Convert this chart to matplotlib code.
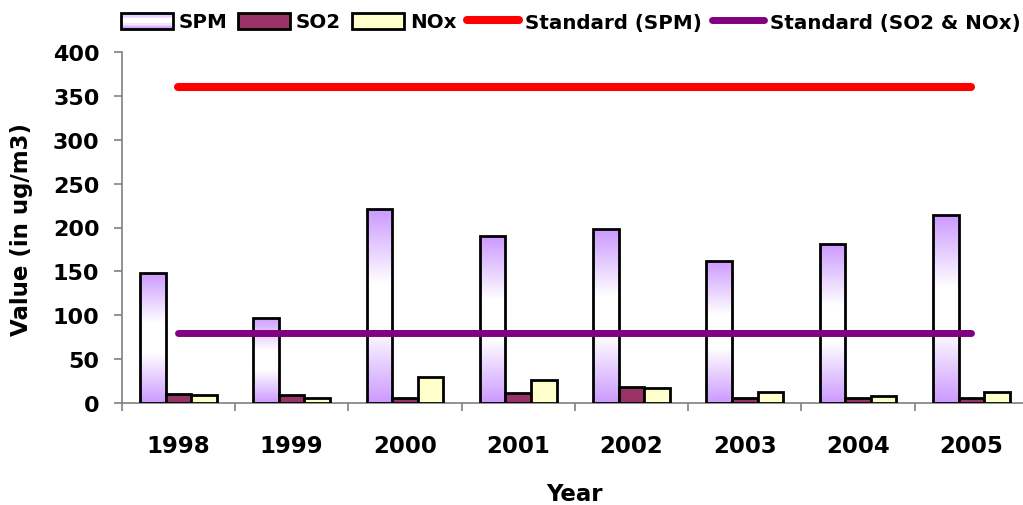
import numpy as np
import matplotlib
matplotlib.use("Agg")
import matplotlib.pyplot as plt
from matplotlib.patches import Rectangle
from matplotlib.lines import Line2D
from matplotlib.legend_handler import HandlerBase
from matplotlib.colors import to_rgb

years = ["1998", "1999", "2000", "2001", "2002", "2003", "2004", "2005"]
spm = [148, 97, 221, 190, 198, 162, 181, 214]
so2 = [10, 9, 6, 11, 18, 6, 6, 6]
nox = [9, 6, 30, 26, 17, 12, 8, 12]
std_spm = [360] * 8
std_so2_nox = [80] * 8

C_SPM = "#CC99FF"
C_SO2 = "#993366"
C_NOX = "#FFFFCC"
C_RED = "#FF0000"
C_PUR = "#800080"

plt.rcParams['font.family'] = ['DejaVu Sans']
plt.rcParams['font.weight'] = 'bold'

W, H = 1023, 506
fig = plt.figure(figsize=(W / 100, H / 100), dpi=100)
ax = fig.add_axes([121.7 / W, (H - 404) / H, (1028 - 121.7) / W, 351 / H])

x = np.arange(len(years))
bw = 0.226
edge_lw = 2.0

bars_spm = ax.bar(x - bw, spm, bw, facecolor="none", edgecolor="black", linewidth=edge_lw, zorder=3)
ax.bar(x, so2, bw, facecolor=C_SO2, edgecolor="black", linewidth=edge_lw, zorder=3)
ax.bar(x + bw, nox, bw, facecolor=C_NOX, edgecolor="black", linewidth=edge_lw, zorder=3)

# gradient fill for SPM bars (purple at ends, white in the middle)
pr = np.array(to_rgb(C_SPM))
t = np.linspace(0, 1, 256)
wgt = 1 - np.abs(2 * t - 1)
wgt = np.clip(wgt * 1.3, 0, 1)
grad = pr[None, :] * (1 - wgt[:, None]) + np.ones(3)[None, :] * wgt[:, None]
grad_img = np.repeat(grad[:, None, :], 2, axis=1)
for b in bars_spm:
    x0, y0 = b.get_x(), b.get_y()
    w, h = b.get_width(), b.get_height()
    im = ax.imshow(grad_img, extent=[x0, x0 + w, y0, y0 + h], aspect="auto",
                   origin="lower", zorder=2.5, interpolation="bilinear")
    im.set_clip_path(b)

ax.plot(x, std_spm, color=C_RED, lw=5.8, solid_capstyle="round", zorder=4)
ax.plot(x, std_so2_nox, color=C_PUR, lw=5, solid_capstyle="round", zorder=4)

ax.set_xlim(-0.5, len(years) - 0.5)
ax.set_ylim(0, 400)
ax.set_yticks(np.arange(0, 401, 50))
ax.set_xticks(x)
ax.set_xticklabels(years)
ax.set_xticks(np.arange(-0.5, len(years), 1), minor=True)

for s in ["top", "right"]:
    ax.spines[s].set_visible(False)
for s in ["left", "bottom"]:
    ax.spines[s].set_color("#808080")
    ax.spines[s].set_linewidth(1.2)

ax.tick_params(axis="y", direction="out", length=6, width=1.2, color="#808080",
               pad=10, labelsize=16)
ax.tick_params(axis="x", which="major", length=0, pad=22, labelsize=16.5)
ax.tick_params(axis="x", which="minor", direction="out", length=6, width=1.2, color="#808080")
for lab in ax.get_xticklabels() + ax.get_yticklabels():
    lab.set_fontweight("bold")

fig.text(22 / W, 1 - 230 / H, "Value (in ug/m3)", rotation=90, ha="center", va="center",
         fontsize=16.5, fontweight="bold")
fig.text(574 / W, 1 - 495 / H, "Year", ha="center", va="center", fontsize=16.5, fontweight="bold")


class GradHandler(HandlerBase):
    def create_artists(self, legend, orig_handle, xdescent, ydescent, width, height, fontsize, trans):
        arts = []
        n = 12
        for i in range(n):
            tt = (i + 0.5) / n
            wv = min(1.0, (1 - abs(2 * tt - 1)) * 1.3)
            c = pr * (1 - wv) + np.ones(3) * wv
            arts.append(Rectangle((-xdescent, -ydescent + i * height / n), width, height / n,
                                  facecolor=c, edgecolor="none", transform=trans))
        arts.append(Rectangle((-xdescent, -ydescent), width, height, fill=False,
                              edgecolor="black", linewidth=edge_lw, transform=trans))
        return arts


h_spm = Rectangle((0, 0), 1, 1)
h_so2 = Rectangle((0, 0), 1, 1, facecolor=C_SO2, edgecolor="black", linewidth=edge_lw)
h_nox = Rectangle((0, 0), 1, 1, facecolor=C_NOX, edgecolor="black", linewidth=edge_lw)
h_red = Line2D([0], [0], color=C_RED, lw=5.8, solid_capstyle="round")
h_pur = Line2D([0], [0], color=C_PUR, lw=5, solid_capstyle="round")

leg = fig.legend([h_spm, h_so2, h_nox, h_red, h_pur],
                 ["SPM", "SO2", "NOx", "Standard (SPM)", "Standard (SO2 & NOx)"],
                 loc="center left", bbox_to_anchor=(121 / W, 1 - 23 / H), ncol=5,
                 frameon=False, fontsize=14.3, handlelength=2.6, handleheight=0.85,
                 handletextpad=0.3, columnspacing=0.55, borderaxespad=0, borderpad=0,
                 handler_map={h_spm: GradHandler()})
for txt in leg.get_texts():
    txt.set_fontweight("bold")

fig.savefig("out.png", dpi=100)
